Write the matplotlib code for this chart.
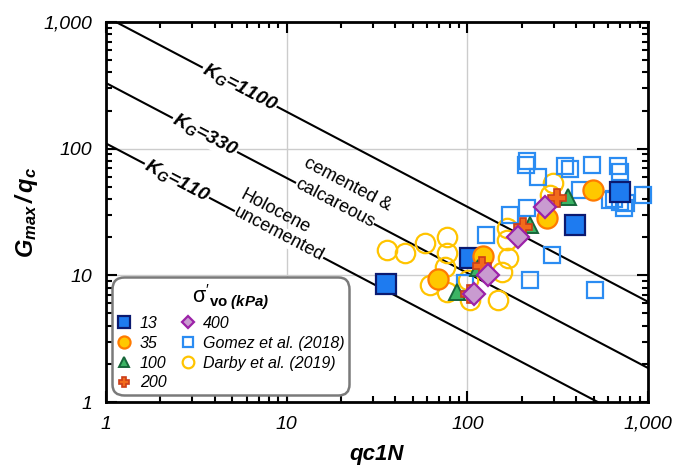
"""Gmax/qc versus qc1N with K_G reference lines (log-log)."""

import numpy as np
import matplotlib
matplotlib.use('Agg')
import matplotlib.pyplot as plt
from matplotlib.ticker import FuncFormatter, LogLocator, NullFormatter

plt.rcParams.update(
    {
        'font.family': ['Liberation Sans', 'DejaVu Sans'],
        'mathtext.fontset': 'custom',
        'mathtext.rm': 'Liberation Sans',
        'mathtext.it': 'Liberation Sans:italic',
        'mathtext.bf': 'Liberation Sans:bold',
        'mathtext.bfit': 'Liberation Sans:bold:italic',
    }
)

# Reference lines: Gmax/qc = K_G * qc1N^-0.75
KG_VALUES = [1100, 330, 110]
KG_LABEL_X = [5.5, 3.53, 2.47]

# Data, one pair of lists per series
S13_X = [35.4, 103, 394, 699]
S13_Y = [8.5, 13.7, 25.0, 45.5]
S35_X = [68.8, 122, 276, 495]
S35_Y = [9.35, 14.2, 28.3, 47.1]
S100_X = [87.6, 114, 222, 360]
S100_Y = [7.4, 11.4, 24.9, 41.5]
S200_X = [103, 120, 203, 313]
S200_Y = [7.1, 11.8, 24.1, 40.8]
S400_X = [109, 130, 191, 269]
S400_Y = [7.1, 10.1, 20.1, 34.6]

GOMEZ_X = [214, 210, 246, 347, 370, 490, 681, 699, 420, 615, 700, 650,
           760, 740, 937, 172, 214, 127, 294, 222, 508, 97]
GOMEZ_Y = [80, 74, 60, 73, 69, 74, 73, 65, 47, 39, 38, 40,
           37, 34, 43, 30, 34, 21, 14.5, 9.2, 7.7, 8.7]

DARBY_X = [35.9, 45.2, 58.3, 77.1, 77.1, 75.2, 62.1, 77.1, 101, 103,
           148, 155, 168, 166, 166, 298, 287]
DARBY_Y = [15.8, 15.0, 18.0, 20.1, 15.0, 11.6, 8.4, 7.4, 9.2, 6.4,
           6.4, 10.6, 13.7, 19.0, 23.6, 53.5, 43]


def kg_line(k, x):
    return k * np.asarray(x, dtype=float) ** -0.75


fig = plt.figure(figsize=(6.75, 4.68), dpi=100)
ax = fig.add_axes([0.157, 0.141, 0.803, 0.812])
ax.set_xscale('log')
ax.set_yscale('log')
ax.set_xlim(1, 1000)
ax.set_ylim(1, 1000)

# angle of a -0.75 slope line on screen
bbox = ax.get_window_extent()
angle = np.degrees(np.arctan(-0.75 * (bbox.height / 3) / (bbox.width / 3)))

xs = np.logspace(0, 3, 200)
for k, lx in zip(KG_VALUES, KG_LABEL_X):
    ax.plot(xs, kg_line(k, xs), color='black', lw=1.5, zorder=2)
    ax.text(lx, kg_line(k, lx), r'$\mathbfit{K_G}$' + '=' + str(k),
            rotation=angle, rotation_mode='anchor', ha='center', va='center',
            fontsize=14, fontweight='bold', fontstyle='italic', zorder=3,
            bbox=dict(facecolor='white', edgecolor='none', pad=0.5))

# zone labels sitting on the 330 and 110 lines
text_kw = dict(rotation=angle, rotation_mode='anchor', ha='center', va='center',
               fontsize=13, zorder=3, textcoords='offset pixels')
white = dict(facecolor='white', edgecolor='none', pad=0.3)
ax.annotate('calcareous', (18.5, kg_line(330, 18.5)), xytext=(0, 0), bbox=white, **text_kw)
ax.annotate('cemented &', (18.5, kg_line(330, 18.5)), xytext=(13, 19), **text_kw)
ax.annotate('uncemented', (9.07, kg_line(110, 9.07)), xytext=(0, 0), bbox=white, **text_kw)
ax.annotate('Holocene', (9.07, kg_line(110, 9.07)), xytext=(-4, 23), **text_kw)

# data
ax.plot(DARBY_X, DARBY_Y, 'o', ms=14, mfc='none', mec='#FFC400', mew=1.6,
        label='Darby et al. (2019)', zorder=4, clip_on=False)
ax.plot(GOMEZ_X, GOMEZ_Y, 's', ms=12, mfc='none', mec='#2B8CF2', mew=1.6,
        label='Gomez et al. (2018)', zorder=4, clip_on=False)
ax.plot(S13_X, S13_Y, 's', ms=14, mfc='#1E7BF0', mec='#0B1A70', mew=1.6,
        label='13', zorder=6)
ax.plot(S35_X, S35_Y, 'o', ms=14.5, mfc='#FFC800', mec='#FF7A00', mew=1.6,
        label='35', zorder=6)
ax.plot(S100_X, S100_Y, '^', ms=12, mfc='#3CB464', mec='#17663A', mew=1.4,
        label='100', zorder=6)
ax.plot(S200_X, S200_Y, 'P', ms=13, mfc='#F26A1B', mec='#CC3D18', mew=1.2,
        label='200', zorder=6)
ax.plot(S400_X, S400_Y, 'D', ms=11, mfc='#C99BD0', mec='#9C22A8', mew=1.6,
        label='400', zorder=7)

# axes styling
fmt = FuncFormatter(lambda v, _: f'{v:,.0f}')
for axis in (ax.xaxis, ax.yaxis):
    axis.set_major_locator(LogLocator(base=10, numticks=10))
    axis.set_minor_locator(LogLocator(base=10, subs=np.arange(2, 10), numticks=10))
    axis.set_major_formatter(fmt)
    axis.set_minor_formatter(NullFormatter())
ax.tick_params(which='both', direction='in', top=True, right=True, width=1.5,
               labelsize=14, pad=10)
ax.tick_params(which='major', length=8)
ax.tick_params(which='minor', length=4)
for lab in ax.get_xticklabels() + ax.get_yticklabels():
    lab.set_fontstyle('italic')
for sp in ax.spines.values():
    sp.set_linewidth(2)
ax.grid(True, which='major', color='#cccccc', lw=1, zorder=0)
ax.set_axisbelow(True)

ax.set_xlabel('qc1N', fontsize=16, fontweight='bold', fontstyle='italic', labelpad=8)
ax.set_ylabel(r'$\mathbfit{G_{max}\,/\,q_c}$', fontsize=17, labelpad=2)

h, l = ax.get_legend_handles_labels()
order = ['13', '35', '100', '200', '400', 'Gomez et al. (2018)', 'Darby et al. (2019)']
hd = dict(zip(l, h))
leg = ax.legend([hd[o] for o in order], order, ncol=2, loc='lower left',
                bbox_to_anchor=(0.012, 0.018), markerscale=0.6, fontsize=11.5,
                title=r"$\mathrm{σ'}_{\mathbf{vo}\ \mathbfit{(kPa)}}$",
                title_fontsize=15.5, frameon=True, fancybox=True, framealpha=1,
                edgecolor='#7a7a7a', handletextpad=0.5, columnspacing=0.9,
                labelspacing=0.3, handlelength=0.9, borderpad=0.3,
                borderaxespad=0)
leg.get_frame().set_linewidth(1.8)
leg.get_frame().set_boxstyle('round,pad=0,rounding_size=0.7')
leg.set_zorder(10)
for t in leg.get_texts():
    t.set_fontstyle('italic')

fig.savefig('out.png', dpi=100)
